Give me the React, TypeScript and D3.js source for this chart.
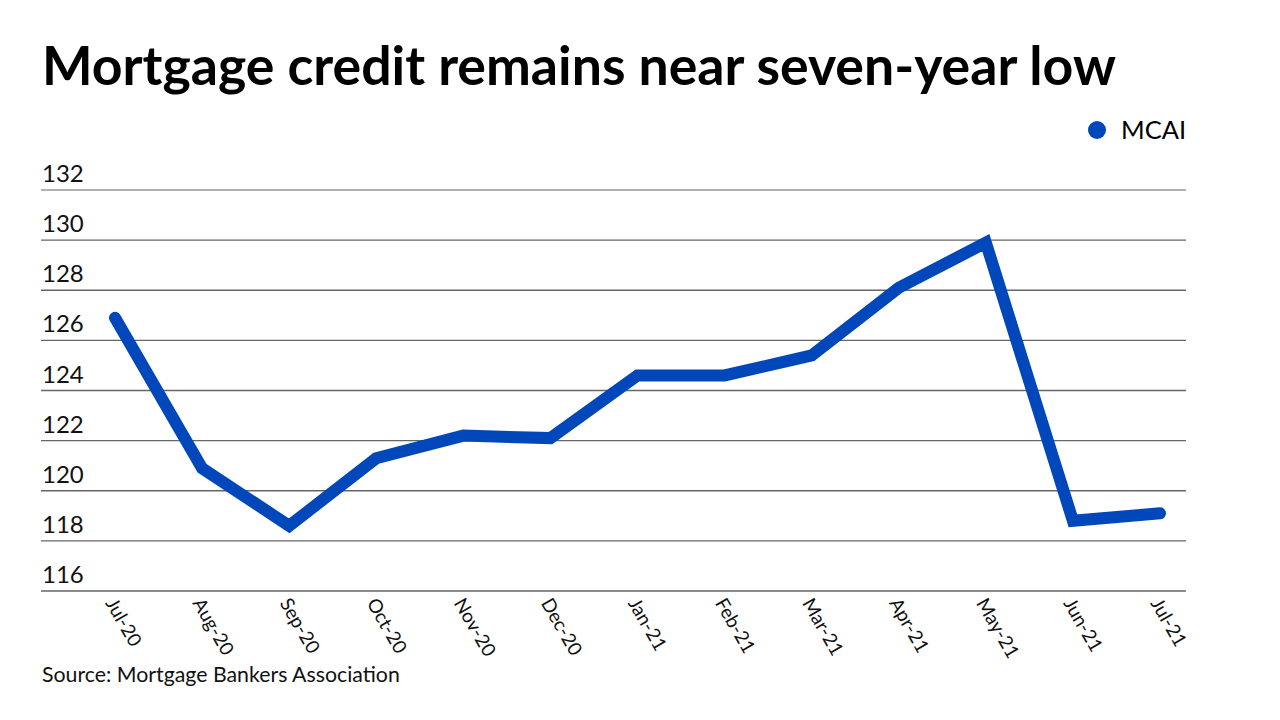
import React from "react";
import * as d3 from "d3";

const months = ["Jul-20","Aug-20","Sep-20","Oct-20","Nov-20","Dec-20","Jan-21","Feb-21","Mar-21","Apr-21","May-21","Jun-21","Jul-21"];
const mcai = [126.9, 120.9, 118.6, 121.3, 122.2, 122.1, 124.6, 124.6, 125.4, 128.1, 129.9, 118.8, 119.1];
const yTicks = [116, 118, 120, 122, 124, 126, 128, 130, 132];

const W = 1280, H = 720;
const FONT = "Lato, 'Open Sans', sans-serif";
const BLUE = "#0047BB";

export default function App() {
  const x = d3.scalePoint<string>().domain(months).range([115, 1160]);
  const y = d3.scaleLinear().domain([116, 132]).range([591, 190]);
  const line = d3.line<number>().x((_, i) => x(months[i]) as number).y((d) => y(d));
  return (
    <svg width={W} height={H} style={{ position: "absolute", left: 0, top: 0, background: "#fff" }} fontFamily={FONT}>
      <rect width={W} height={H} fill="#fff" />
      <text x={42} y={85} fontSize={53.6} fontWeight={700} fill="#000">Mortgage credit remains near seven-year low</text>
      <circle cx={1097} cy={130} r={9} fill={BLUE} />
      <text x={1121} y={139} fontSize={25.5} fill="#000">MCAI</text>
      {yTicks.map((t) => (
        <g key={t}>
          <line x1={41} x2={1186} y1={y(t)} y2={y(t)} stroke={t === 132 ? "#999" : "#666"} strokeWidth={1.3} />
          <text x={42} y={y(t) - 8} fontSize={24} fill="#111">{t}</text>
        </g>
      ))}
      <path d={line(mcai) || ""} fill="none" stroke={BLUE} strokeWidth={12} strokeLinejoin="miter" strokeLinecap="round" />
      {months.map((m) => (
        <text key={m} transform={`translate(${(x(m) as number) - 10},${603}) rotate(60)`} fontSize={19} fill="#111">{m}</text>
      ))}
      <text x={42} y={682} fontSize={21.3} fill="#111">Source: Mortgage Bankers Association</text>
    </svg>
  );
}
